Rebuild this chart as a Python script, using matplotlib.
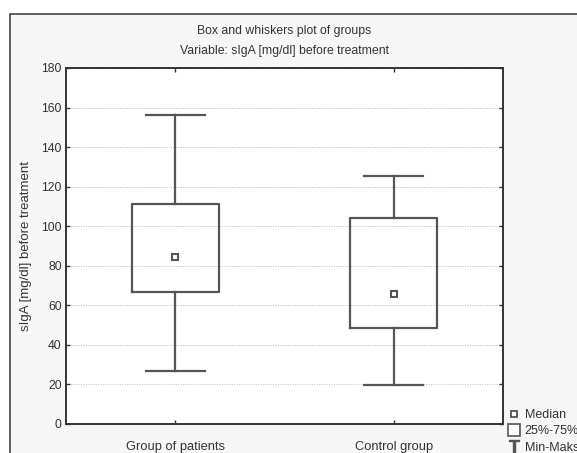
import matplotlib.pyplot as plt
from matplotlib.patches import Rectangle
from matplotlib.lines import Line2D

plt.rcParams['font.family'] = ['Liberation Sans', 'DejaVu Sans']

groups = ["Group of patients", "Control group"]
minimum = [27, 19.5]
q25 = [66.5, 48.5]
median = [84.5, 65.5]
q75 = [111, 104]
maximum = [156, 125.5]
y_ticks = [0, 20, 40, 60, 80, 100, 120, 140, 160, 180]

txt = "#333333"
line = "#555555"

fig = plt.figure(figsize=(5.77, 4.53), dpi=100)
fig.patch.set_facecolor("white")
# gray panel with a dark frame behind everything
fig.patches.append(Rectangle((10 / 577, -0.05), 1.05, 1 - 14 / 453 + 0.05,
                             transform=fig.transFigure, facecolor="#f7f7f7",
                             edgecolor="#444444", linewidth=1.2, zorder=-10))

ax = fig.add_axes([66 / 577, 1 - 424 / 453, (503 - 66) / 577, (424 - 68) / 453])
ax.set_facecolor("white")

positions = [1, 2]
stats = []
for i, name in enumerate(groups):
    stats.append(dict(label=name, whislo=minimum[i], q1=q25[i], med=median[i],
                      q3=q75[i], whishi=maximum[i], fliers=[]))

lp = dict(color=line, linewidth=1.6)
ax.bxp(stats, positions=positions, widths=0.4, capwidths=0.27,
       boxprops=lp, whiskerprops=lp, capprops=lp,
       medianprops=dict(linestyle="none"), showfliers=False)
ax.plot(positions, median, linestyle="none", marker="s", markersize=4.5,
        markerfacecolor="white", markeredgecolor=line, markeredgewidth=1.5,
        zorder=5)

ax.set_xlim(0.5, 2.5)
ax.set_ylim(0, 180)
ax.set_yticks(y_ticks)
ax.set_xticks(positions)
ax.set_xticklabels(groups)
ax.yaxis.grid(True, color="#bbbbbb", linestyle=(0, (1, 1.5)), linewidth=0.7)
ax.set_axisbelow(True)

for s in ax.spines.values():
    s.set_color("#333333")
    s.set_linewidth(1.4)

ax.tick_params(axis="y", direction="in", length=3, width=1, colors="#333333",
               labelcolor=txt, labelsize=8.8, pad=3, right=True)
ax.tick_params(axis="x", direction="in", length=3, width=1, colors="#333333",
               labelcolor=txt, labelsize=9.3, pad=12, top=True)

ax.set_ylabel("sIgA [mg/dl] before treatment", fontsize=9.5, color=txt,
              labelpad=7)

cx = (66 + 503) / 2 / 577
fig.text(cx, 1 - 31 / 453, "Box and whiskers plot of groups", ha="center",
         va="center", fontsize=8.8, color=txt)
fig.text(cx, 1 - 51 / 453, "Variable: sIgA [mg/dl] before treatment",
         ha="center", va="center", fontsize=8.8, color=txt)

handles = [
    Line2D([], [], linestyle="none", marker="s", markersize=4,
           markerfacecolor="white", markeredgecolor=line, markeredgewidth=1.3),
    Line2D([], [], linestyle="none", marker="s", markersize=9,
           markerfacecolor="white", markeredgecolor=line, markeredgewidth=1.2),
    Line2D([], [], linestyle="none", marker=r"$\mathsf{T}$", markersize=9,
           color=line),
]
fig.legend(handles, ["Median", "25%-75%", "Min-Maks"], loc="upper left",
           bbox_to_anchor=(509 / 577, 1 - 409 / 453), frameon=False,
           fontsize=9, labelcolor=txt, handlelength=0.8, handletextpad=0.45,
           labelspacing=0.35, borderpad=0, borderaxespad=0)

fig.savefig("out.png", dpi=100)
